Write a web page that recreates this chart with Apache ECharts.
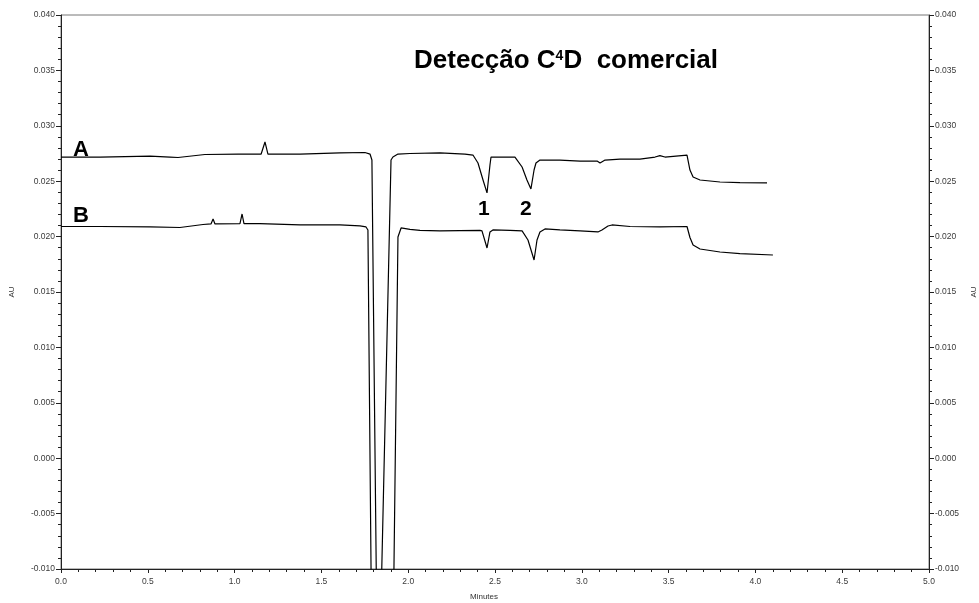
<!DOCTYPE html>
<html>
<head>
<meta charset="utf-8">
<script src="https://cdn.jsdelivr.net/npm/echarts@6/dist/echarts.min.js"></script>
<style>
html,body{margin:0;padding:0;background:#fff;}
#chart{width:979px;height:603px;}
</style>
</head>
<body>
<div id="chart"></div>
<script>
// ---- Data (time in minutes, signal in AU) ----
const timeA = [0.000,0.225,0.513,0.628,0.674,0.829,1.020,1.153,1.175,1.192,1.377,1.607,1.751,1.780,1.791,1.826,1.901,1.912,1.941,2.010,2.183,2.327,2.373,2.402,2.431,2.454,2.471,2.477,2.615,2.656,2.684,2.707,2.725,2.736,2.759,2.874,2.990,3.088,3.105,3.134,3.220,3.335,3.422,3.450,3.479,3.606,3.623,3.641,3.681,3.796,3.911,4.067];
const signalA = [0.02718,0.02718,0.02727,0.02718,0.02714,0.02741,0.02745,0.02745,0.02854,0.02745,0.02745,0.02755,0.02759,0.02745,0.02691,-0.02500,0.02691,0.02718,0.02745,0.02750,0.02755,0.02745,0.02736,0.02664,0.02511,0.02394,0.02646,0.02718,0.02718,0.02628,0.02511,0.02430,0.02601,0.02664,0.02691,0.02691,0.02682,0.02682,0.02664,0.02691,0.02700,0.02700,0.02718,0.02731,0.02718,0.02736,0.02601,0.02538,0.02511,0.02493,0.02488,0.02484];

const timeB = [0.000,0.225,0.513,0.685,0.818,0.864,0.876,0.887,1.031,1.043,1.054,1.146,1.377,1.607,1.722,1.757,1.768,1.8095,1.887,1.941,1.959,2.010,2.068,2.183,2.413,2.425,2.454,2.471,2.488,2.586,2.656,2.690,2.725,2.742,2.759,2.788,2.874,2.990,3.093,3.116,3.151,3.174,3.278,3.450,3.606,3.623,3.641,3.681,3.796,3.911,4.101];
const signalB = [0.02091,0.02091,0.02087,0.02082,0.02109,0.02114,0.02159,0.02114,0.02118,0.02204,0.02118,0.02118,0.02105,0.02105,0.02096,0.02087,0.02060,-0.05000,-0.05000,0.01996,0.02078,0.02065,0.02056,0.02051,0.02056,0.02051,0.01897,0.02042,0.02060,0.02056,0.02051,0.01969,0.01789,0.01969,0.02042,0.02069,0.02060,0.02051,0.02042,0.02060,0.02096,0.02105,0.02091,0.02087,0.02091,0.01992,0.01924,0.01888,0.01861,0.01847,0.01834];

const traceLabels = ['A', 'B'];
const peakLabels = ['1', '2'];
const chartTitle = 'Detecção C{s|4}D  comercial';
const xName = 'Minutes';
const yName = 'AU';

// ---- Chart ----
const zip = (t, v) => t.map((x, i) => [x, v[i]]);
const FONT = 'Liberation Sans, Arial, sans-serif';

function yAxisCfg(pos) {
  return {
    type: 'value', position: pos,
    min: -0.010, max: 0.040, interval: 0.005,
    name: yName, nameLocation: 'middle', nameGap: pos === 'left' ? 45 : 41,
    nameRotate: 90,
    nameTextStyle: { fontSize: 8, color: '#333', fontFamily: FONT },
    axisLine: { show: true, lineStyle: { color: '#222', width: 1 } },
    axisTick: { show: true, length: 5, lineStyle: { color: '#222' } },
    minorTick: { show: true, splitNumber: 5, length: 3, lineStyle: { color: '#222' } },
    splitLine: { show: false },
    axisLabel: { fontSize: 8.5, color: '#3a3a3a', fontFamily: FONT, margin: 6,
      formatter: v => v.toFixed(3) }
  };
}

const chart = echarts.init(document.getElementById('chart'), null, { renderer: 'canvas' });
chart.setOption({
  animation: false,
  backgroundColor: '#fff',
  title: {
    text: chartTitle,
    left: 409, top: 43,
    textStyle: {
      fontSize: 26, fontWeight: 'bold', color: '#000', fontFamily: FONT,
      rich: { s: { fontSize: 14, fontWeight: 'bold', color: '#000', fontFamily: FONT, verticalAlign: 'top', padding: [1, 0, 0, 0] } }
    }
  },
  grid: { left: 61, right: 50, top: 15, bottom: 34, show: true, borderColor: '#777', borderWidth: 1,
    containLabel: false, outerBoundsMode: 'none' },
  xAxis: {
    type: 'value', min: 0, max: 5, interval: 0.5,
    name: xName, nameLocation: 'middle', nameGap: 24,
    nameTextStyle: { fontSize: 8, color: '#333', fontFamily: FONT, padding: [0, 22, 0, 0] },
    axisLine: { show: true, onZero: false, lineStyle: { color: '#222', width: 1 } },
    axisTick: { show: true, length: 4, lineStyle: { color: '#222' } },
    minorTick: { show: true, splitNumber: 5, length: 3, lineStyle: { color: '#222' } },
    splitLine: { show: false },
    axisLabel: { fontSize: 8.5, color: '#3a3a3a', fontFamily: FONT, margin: 8,
      formatter: v => v.toFixed(1) }
  },
  yAxis: [yAxisCfg('left'), yAxisCfg('right')],
  series: [
    { name: traceLabels[0], type: 'line', data: zip(timeA, signalA), showSymbol: false, symbol: 'none',
      clip: true, lineStyle: { color: '#000', width: 1.2 } },
    { name: traceLabels[1], type: 'line', data: zip(timeB, signalB), showSymbol: false, symbol: 'none',
      clip: true, lineStyle: { color: '#000', width: 1.2 } }
  ],
  graphic: [
    { type: 'text', left: 73, top: 139, style: { text: traceLabels[0], font: 'bold 22px ' + FONT, fill: '#000' } },
    { type: 'text', left: 73, top: 205, style: { text: traceLabels[1], font: 'bold 22px ' + FONT, fill: '#000' } },
    { type: 'text', left: 478, top: 199, style: { text: peakLabels[0], font: 'bold 21px ' + FONT, fill: '#000' } },
    { type: 'text', left: 520, top: 199, style: { text: peakLabels[1], font: 'bold 21px ' + FONT, fill: '#000' } }
  ]
});
</script>
</body>
</html>
